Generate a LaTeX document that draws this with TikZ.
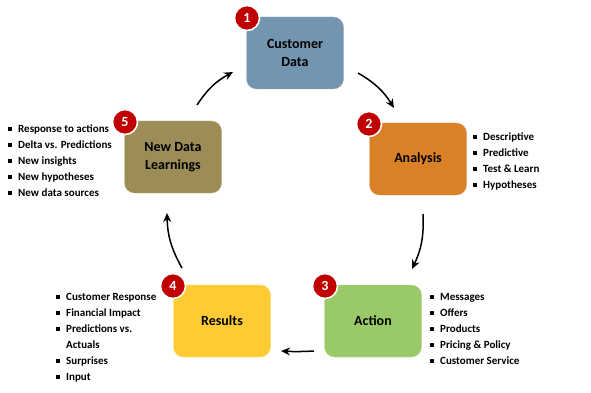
\documentclass[tikz,border=0pt]{standalone}
\usepackage{fontspec}
\setmainfont{Carlito}
\usetikzlibrary{arrows.meta}
\definecolor{cdblue}{RGB}{116,149,176}
\definecolor{anorange}{RGB}{218,128,38}
\definecolor{acgreen}{RGB}{154,202,104}
\definecolor{reyellow}{RGB}{255,203,53}
\definecolor{ndolive}{RGB}{156,140,87}
\definecolor{badgered}{RGB}{192,0,0}
\newcommand\bitem{\makebox[10pt][l]{\rule[1.2pt]{3.6pt}{3.6pt}}}
\newcommand\bcont{\hspace*{10pt}}
\tikzset{
  stage/.style={rounded corners=10pt, minimum width=97pt, minimum height=72pt,
    align=center, font=\fontsize{14}{17.5}\selectfont\bfseries, text=black, inner sep=0pt},
  badge/.style={circle, fill=badgered, draw=white, line width=1.6pt, minimum size=25pt,
    inner sep=0pt, text=white, font=\fontsize{14}{14}\selectfont\bfseries},
  blist/.style={anchor=base west, align=left, inner sep=0pt,
    font=\fontsize{11}{16}\selectfont\bfseries, text=black},
  flow/.style={line width=1.5pt, -{Stealth[length=9pt,width=8pt]}, bend left=14}
}
\begin{document}
\begin{tikzpicture}[x=1pt,y=-1pt]
\useasboundingbox (0,0) rectangle (591,393);
% stages
\node[stage, fill=cdblue, draw=cdblue!70!white] (cd) at (295,53) {Customer\\Data};
\node[stage, fill=anorange, draw=anorange!70!white] (an) at (418,159) {Analysis};
\node[stage, fill=acgreen, draw=acgreen!70!white] (ac) at (373,321) {Action};
\node[stage, fill=reyellow, draw=reyellow!70!white] (re) at (222,321) {Results};
\node[stage, fill=ndolive, draw=ndolive!70!white] (nd) at (173,157) {New Data\\Learnings};
% badges
\node[badge] (b1) at (247,18) {1};
\node[badge] (b2) at (369,124) {2};
\node[badge] (b3) at (325,286) {3};
\node[badge] (b4) at (173,286) {4};
\node[badge] (b5) at (125,122) {5};
% lists (base anchor = baseline of the last line)
\node[blist] (l2) at (473,188) {\bitem Descriptive\\\bitem Predictive\\\bitem Test \& Learn\\\bitem Hypotheses};
\node[blist] (l3) at (430,364) {\bitem Messages\\\bitem Offers\\\bitem Products\\\bitem Pricing \& Policy\\\bitem Customer Service};
\node[blist] (l4) at (56,380) {\bitem Customer Response\\\bitem Financial Impact\\\bitem Predictions vs.\\\bcont Actuals\\\bitem Surprises\\\bitem Input};
\node[blist] (l5) at (8,196) {\bitem Response to actions\\\bitem Delta vs. Predictions\\\bitem New insights\\\bitem New hypotheses\\\bitem New data sources};
% connectors
\coordinate (a1s) at (358,73);  \coordinate (a1e) at (394,108);
\coordinate (a2s) at (423,214); \coordinate (a2e) at (412,269);
\coordinate (a3s) at (314,351); \coordinate (a3e) at (281,351);
\coordinate (a4s) at (182,268); \coordinate (a4e) at (167,213);
\coordinate (a5s) at (197,105); \coordinate (a5e) at (233,72);
\draw[flow] (a1s) to (a1e);
\draw[flow] (a2s) to (a2e);
\draw[flow, bend left=3] (a3s) to (a3e);
\draw[flow] (a4s) to (a4e);
\draw[flow] (a5s) to (a5e);
\end{tikzpicture}
\end{document}
